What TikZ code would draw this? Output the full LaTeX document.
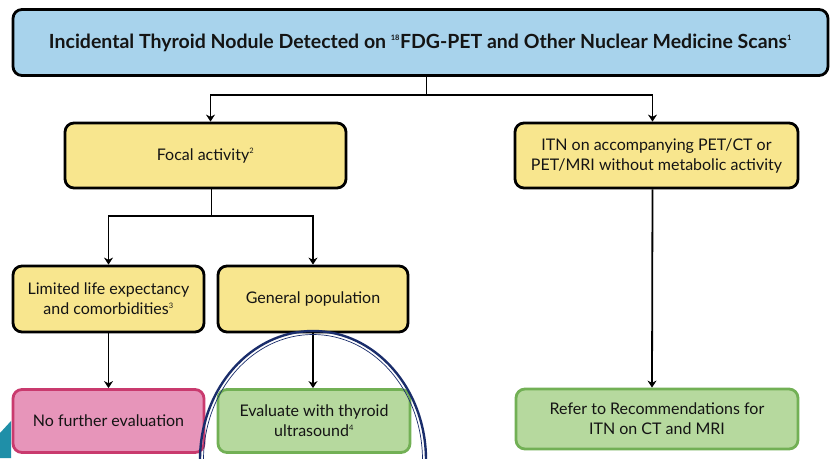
\documentclass[tikz,border=0pt]{standalone}
\usepackage{fontspec}
\setmainfont{Lato}
\usetikzlibrary{arrows.meta}
\definecolor{bluefill}{HTML}{A8D3EC}
\definecolor{yellowfill}{HTML}{F8E68E}
\definecolor{pinkfill}{HTML}{E795BA}
\definecolor{pinkline}{HTML}{C93A6E}
\definecolor{greenfill}{HTML}{B6D99E}
\definecolor{greenline}{HTML}{72B055}
\definecolor{navy}{HTML}{1A2D6B}
\definecolor{teal}{HTML}{1F8FA8}
\newcommand{\supnum}[1]{\textsuperscript{\fontsize{7.5}{7.5}\selectfont #1}}
\begin{document}
\begin{tikzpicture}[x=1pt,y=-1pt,
  box/.style={draw=black, line width=2.8pt, rounded corners=9pt, align=center,
    font=\fontsize{16}{20}\selectfont, inner sep=0pt, text=black!92},
  yellowbox/.style={box, fill=yellowfill},
  pinkbox/.style={box, fill=pinkfill, draw=pinkline},
  greenbox/.style={box, fill=greenfill, draw=greenline},
  conn/.style={line width=1.8pt, -{Stealth[length=7pt,width=9pt]}},
  plainconn/.style={line width=1.8pt}]
\useasboundingbox (0,0) rectangle (830,458);
\fill[white] (0,0) rectangle (830,458);

\node[box, fill=bluefill, minimum width=815pt, minimum height=66pt,
  font=\fontsize{19.5}{23}\selectfont\bfseries] (top) at (420.5,42.5)
  {Incidental Thyroid Nodule Detected on \supnum{18}FDG-PET and Other Nuclear Medicine Scans\supnum{1}};

\node[yellowbox, minimum width=281pt, minimum height=65pt] (focal) at (205.5,155.5) {Focal activity\supnum{2}};
\node[yellowbox, minimum width=283pt, minimum height=65pt] (itn) at (656.5,155.5)
  {ITN on accompanying PET/CT or\\PET/MRI without metabolic activity};

\node[yellowbox, minimum width=191pt, minimum height=66pt] (limited) at (108.5,299)
  {Limited life expectancy\\and comorbidities\supnum{3}};
\node[yellowbox, minimum width=190pt, minimum height=66pt] (general) at (313,299) {General population};

\node[pinkbox, minimum width=191pt, minimum height=63pt] (nofurther) at (108.5,421) {No further evaluation};
\node[greenbox, minimum width=192pt, minimum height=63pt] (evaluate) at (314,421)
  {Evaluate with thyroid\\ultrasound\supnum{4}};
\node[greenbox, minimum width=282pt, minimum height=60pt] (refer) at (657,419)
  {Refer to Recommendations for\\ITN on CT and MRI};

% connectors
\coordinate (j1) at ([xshift=6pt]top.south |- 0,95);
\draw[plainconn] ([xshift=6pt]top.south) -- (j1);
\draw[conn] (j1) -| ([xshift=5pt]focal.north);
\draw[conn] (j1) -| ([xshift=-4pt]itn.north);

\coordinate (j2) at ([xshift=6pt]focal.south |- 0,216);
\draw[plainconn] ([xshift=6pt]focal.south) -- (j2);
\draw[conn] (j2) -| (limited.north);
\draw[conn] (j2) -| (general.north);

\draw[conn] (limited.south) -- (nofurther.north);
\draw[conn] (general.south) -- ([xshift=-1pt]evaluate.north);
\draw[conn] ([xshift=-4pt]itn.south) -- ([xshift=-5pt]refer.north);

% highlight ellipse
\draw[navy, line width=2.4pt] (313,460) ellipse [x radius=113, y radius=129];
\draw[navy, line width=0.7pt] (313,460) ellipse [x radius=109.5, y radius=125.5];

% teal corner decoration
\fill[teal] (0,433) -- (11,421) -- (11,458) -- (0,458) -- cycle;
\end{tikzpicture}
\end{document}
